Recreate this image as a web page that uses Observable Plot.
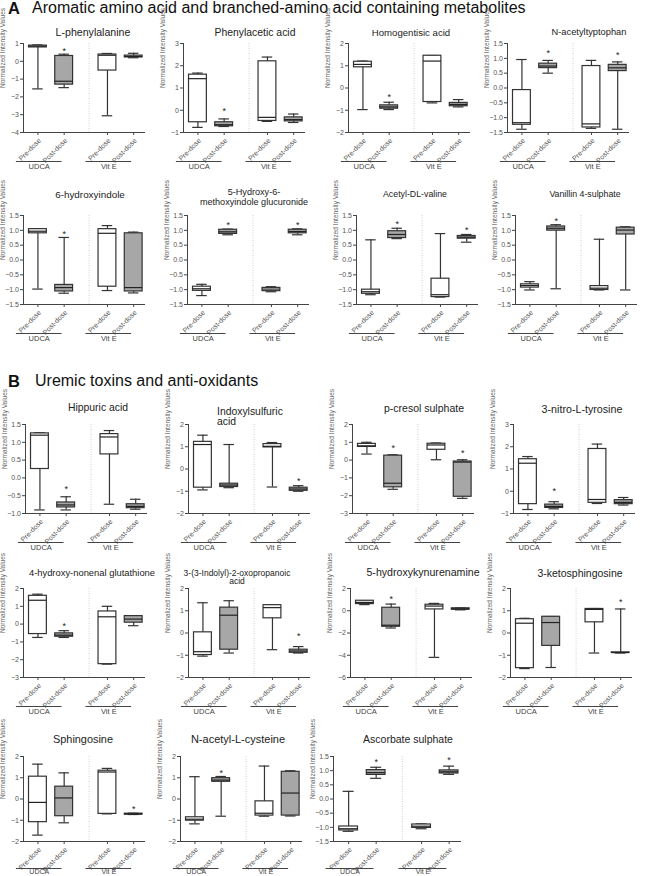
<!DOCTYPE html>
<html>
<head>
<meta charset="utf-8">
<script src="https://cdn.jsdelivr.net/npm/d3@7"></script>
<script src="https://cdn.jsdelivr.net/npm/@observablehq/plot@0.6"></script>
<style>
  body { margin: 0; background: #fff; font-family: "Liberation Sans", Arial, sans-serif; }
  #root { position: relative; width: 655px; height: 876px; overflow: hidden; background: #fff; }
  .letter { position: absolute; font-size: 16.5px; line-height: 16px; font-weight: bold; color: #111; }
  .head { position: absolute; font-size: 16px; line-height: 16px; color: #111; white-space: nowrap; }
  .ttl { position: absolute; color: #222; white-space: nowrap; }
  .panel { position: absolute; }
  .panel svg { overflow: visible; }
</style>
</head>
<body>
<div id="root"></div>
<script>
// ---------- categories ----------
const groups = ["UDCA", "Vit E"];
const doses = ["Pre-dose", "Post-dose"];
const yLabel = "Normalized Intensity Values";
const sectionA = "Aromatic amino acid and branched-amino acid containing metabolites";
const sectionB = "Uremic toxins and anti-oxidants";

// ---------- values: [min, q1, median, q3, max] for UDCA pre, UDCA post, Vit E pre, Vit E post ----------
const lPhenylalanine = [[-1.55, 0.78, 0.85, 0.88, 0.92], [-1.48, -1.31, -1.12, 0.3, 0.4], [-3.06, -0.52, 0.34, 0.38, 0.44], [0.2, 0.22, 0.27, 0.32, 0.45]];
const phenylaceticAcid = [[-0.77, -0.54, 1.42, 1.6, 1.67], [-0.73, -0.72, -0.65, -0.54, -0.39], [-0.5, -0.48, -0.32, 2.2, 2.39], [-0.55, -0.5, -0.42, -0.32, -0.17]];
const homogentisicAcid = [[-0.97, 0.93, 1.06, 1.18, 1.21], [-0.97, -0.93, -0.85, -0.78, -0.64], [-0.67, -0.63, 1.21, 1.45, 1.46], [-0.85, -0.82, -0.74, -0.67, -0.52]];
const nAcetyltryptophan = [[-1.39, -1.24, -1.17, -0.07, 0.96], [0.5, 0.67, 0.74, 0.82, 0.93], [-1.36, -1.33, -1.21, 0.74, 0.93], [-1.39, 0.57, 0.68, 0.78, 0.88]];
const hydroxyindole = [[-0.98, 0.9, 0.97, 1.04, 1.05], [-1.12, -1.06, -0.93, -0.84, 0.76], [-1.03, -0.9, 0.9, 1.04, 1.16], [-1.11, -1.06, -0.93, 0.9, 0.94]];
const methoxyindoleGlucuronide = [[-1.2, -1.04, -0.97, -0.9, -0.82], [0.85, 0.88, 0.95, 1.02, 1.04], [-1.07, -1.05, -0.98, -0.94, -0.9], [0.85, 0.9, 0.96, 1.02, 1.05]];
const acetylValine = [[-1.17, -1.14, -1.07, -1.0, 0.68], [0.72, 0.74, 0.86, 0.97, 1.07], [-1.25, -1.25, -1.17, -0.63, 0.89], [0.6, 0.72, 0.77, 0.81, 0.86]];
const vanillinSulphate = [[-1.01, -0.93, -0.86, -0.82, -0.73], [-0.97, 0.99, 1.07, 1.13, 1.19], [-1.01, -1.01, -0.95, -0.88, 0.7], [-1.01, 0.86, 1.01, 1.09, 1.12]];
const hippuricAcid = [[-0.9, 0.25, 1.2, 1.25, 1.27], [-0.9, -0.83, -0.76, -0.69, -0.53], [-0.74, 0.66, 1.15, 1.23, 1.33], [-0.88, -0.85, -0.8, -0.74, -0.6]];
const indoxylsulfuricAcid = [[-0.94, -0.84, 1.1, 1.22, 1.52], [-0.84, -0.81, -0.72, -0.66, 1.1], [-0.81, 0.97, 1.02, 1.12, 1.19], [-1.0, -0.98, -0.9, -0.84, -0.75]];
const pCresolSulphate = [[0.34, 0.74, 0.8, 0.91, 1.0], [-1.64, -1.53, -1.3, 0.25, 0.3], [0.02, 0.58, 0.85, 0.92, 0.96], [-2.15, -2.06, -0.11, -0.08, 0.02]];
const nitroTyrosine = [[-0.82, -0.58, 1.26, 1.44, 1.56], [-0.79, -0.75, -0.68, -0.6, -0.47], [-0.55, -0.52, -0.37, 1.9, 2.12], [-0.62, -0.58, -0.5, -0.4, -0.28]];
const hneGlutathione = [[-0.75, -0.56, 1.34, 1.59, 1.68], [-0.75, -0.71, -0.62, -0.52, -0.37], [-2.25, -2.25, 0.41, 0.71, 1.0], [-0.09, 0.08, 0.28, 0.45, 0.47]];
const indolylOxopropanoicAcid = [[-1.04, -0.99, -0.84, 0.03, 1.36], [-0.9, -0.75, 0.8, 1.14, 1.45], [-0.75, 0.66, 1.14, 1.25, 1.25], [-0.9, -0.89, -0.81, -0.75, -0.61]];
const hydroxykynurenamine = [[0.55, 0.6, 0.75, 0.9, 0.9], [-1.55, -1.44, -1.3, 0.27, 0.6], [-4.19, 0.12, 0.42, 0.54, 0.66], [0.08, 0.1, 0.16, 0.22, 0.25]];
const ketosphingosine = [[-1.6, -1.58, 0.44, 0.62, 0.66], [-1.55, -0.58, 0.47, 0.73, 0.74], [-0.9, 0.48, 1.06, 1.08, 1.1], [-0.9, -0.89, -0.88, -0.87, 1.08]];
const sphingosine = [[-1.7, -1.09, -0.16, 1.05, 1.64], [-1.12, -0.81, 0.05, 0.58, 1.23], [-0.7, -0.7, 1.27, 1.33, 1.44], [-0.73, -0.73, -0.71, -0.69, -0.67]];
const nAcetylCysteine = [[-1.17, -1.02, -0.95, -0.86, 1.05], [-0.81, 0.81, 0.89, 0.98, 1.06], [-0.81, -0.78, -0.67, -0.11, 1.55], [-0.8, -0.78, 0.28, 1.28, 1.33]];
const ascorbateSulphate = [[-1.14, -1.11, -1.05, -0.97, 0.27], [0.73, 0.85, 0.93, 1.02, 1.12], [-1.05, -1.02, -0.96, -0.9, -0.88], [0.87, 0.9, 0.96, 1.01, 1.16]];

// significance asterisk heights (per box, null = none)
const lPhenylalanineStars = [null, 0.66, null, null];
const phenylaceticAcidStars = [null, 0.05, null, null];
const homogentisicAcidStars = [null, -0.3, null, null];
const nAcetyltryptophanStars = [null, 1.24, null, 1.19];
const hydroxyindoleStars = [null, 0.94, null, null];
const methoxyindoleGlucuronideStars = [null, 1.26, null, 1.26];
const acetylValineStars = [null, 1.28, null, 1.07];
const vanillinSulphateStars = [null, 1.38, null, null];
const hippuricAcidStars = [null, -0.26, null, null];
const indoxylsulfuricAcidStars = [null, null, null, -0.44];
const pCresolSulphateStars = [null, 0.77, null, 0.49];
const nitroTyrosineStars = [null, 0.08, null, null];
const hneGlutathioneStars = [null, 0.0, null, null];
const indolylOxopropanoicAcidStars = [null, null, null, -0.07];
const hydroxykynurenamineStars = [null, 1.26, null, null];
const ketosphingosineStars = [null, null, null, 1.5];
const sphingosineStars = [null, null, null, -0.36];
const nAcetylCysteineStars = [null, 1.33, null, null];
const ascorbateSulphateStars = [null, 1.37, null, 1.46];

// panel titles, y domains and y tick steps
const titles = ["L-phenylalanine", "Phenylacetic acid", "Homogentisic acid", "N-acetyltyptophan",
  "6-hydroxyindole", "5-Hydroxy-6-<br>methoxyindole glucuronide", "Acetyl-DL-valine", "Vanillin 4-sulphate",
  "Hippuric acid", "Indoxylsulfuric<br>acid", "p-cresol sulphate", "3-nitro-L-tyrosine",
  "4-hydroxy-nonenal glutathione", "3-(3-Indolyl)-2-oxopropanoic<br>acid", "5-hydroxykynurenamine", "3-ketosphingosine",
  "Sphingosine", "N-acetyl-L-cysteine", "Ascorbate sulphate"];
const yDomains = [[-4, 1], [-1, 3], [-2, 2], [-1.5, 1.5],
  [-1.5, 1.5], [-1.5, 1.5], [-1.5, 1.5], [-1.5, 1.5],
  [-1, 1.5], [-2, 2], [-3, 2], [-1, 3],
  [-3, 2], [-2, 2], [-6, 2], [-2, 2],
  [-2, 2], [-2, 2], [-1.5, 1.5]];
const yTickSteps = [1, 1, 1, 0.5, 0.5, 0.5, 0.5, 0.5, 0.5, 1, 1, 1, 1, 1, 2, 1, 1, 1, 0.5];
const panelStats = [lPhenylalanine, phenylaceticAcid, homogentisicAcid, nAcetyltryptophan,
  hydroxyindole, methoxyindoleGlucuronide, acetylValine, vanillinSulphate,
  hippuricAcid, indoxylsulfuricAcid, pCresolSulphate, nitroTyrosine,
  hneGlutathione, indolylOxopropanoicAcid, hydroxykynurenamine, ketosphingosine,
  sphingosine, nAcetylCysteine, ascorbateSulphate];
const panelStars = [lPhenylalanineStars, phenylaceticAcidStars, homogentisicAcidStars, nAcetyltryptophanStars,
  hydroxyindoleStars, methoxyindoleGlucuronideStars, acetylValineStars, vanillinSulphateStars,
  hippuricAcidStars, indoxylsulfuricAcidStars, pCresolSulphateStars, nitroTyrosineStars,
  hneGlutathioneStars, indolylOxopropanoicAcidStars, hydroxykynurenamineStars, ketosphingosineStars,
  sphingosineStars, nAcetylCysteineStars, ascorbateSulphateStars];

// ---------- layout (page positions and styles, not data) ----------
const rowPlotTop = [43, 215, 424, 588, 756];
const rowPlotH = [89, 89, 89, 89, 85];
const rowAxisX = [[23, 183, 348, 507], [23, 187, 356, 515], [25, 188, 352, 513], [23, 188, 350, 510], [23, 180, 333]];
const titleCY = [33, 33, 33, 33, 195, 193, 195, 195, 408, 412, 408, 410, 573, 573, 573, 573, 740, 740, 739];
const titleCX = [93, 255, 411, 589, 90, 254, 415, 585, 98, 217, 424, 582, 92, 237, 423, 580, 83, 238, 408];
const titleSize = [10.6, 10.4, 9.6, 9.3, 9.9, 9.1, 8.8, 8.8, 10.4, 10.4, 10.5, 10.7, 9.4, 8.5, 10.6, 10.5, 10.9, 11, 10.5];
const ML = 30, MR = 6, MT = 10, MB = 46;
const slotPos = [1, 2, 3.65, 4.65];   // x slot of each box on the linear x scale
const xDomain = [0.45, 5.1];
const dividerX = 2.95;
const BW = 0.34, CAP = 0.2;

const root = document.getElementById("root");
function addDiv(cls, html, style) {
  const d = document.createElement("div");
  d.className = cls; d.innerHTML = html;
  Object.assign(d.style, style);
  root.appendChild(d);
  return d;
}
addDiv("letter", "A", {left: "8px", top: "0px"});
addDiv("head", sectionA, {left: "32px", top: "0px"});
addDiv("letter", "B", {left: "8px", top: "373px"});
addDiv("head", sectionB, {left: "35px", top: "373px"});

function boxPanel(stats, stars, domain, step, w, ph, lastRow) {
  const rows = stats.map((s, i) => ({
    slot: slotPos[i], dose: doses[i % 2], group: groups[Math.floor(i / 2)], post: i % 2 === 1,
    min: s[0], q1: s[1], med: s[2], q3: s[3], max: s[4], star: stars[i], base: domain[0]
  }));
  const groupRows = groups.map((g, j) => ({
    group: g, x1: slotPos[2 * j] - 0.82, x2: slotPos[2 * j + 1] - 0.08, base: domain[0]
  }));
  const ticks = d3.range(domain[0], domain[1] + step / 2, step);
  const fmt = step < 1 ? d3.format(".1f") : d3.format("d");
  const stroke = "#333";
  return Plot.plot({
    width: ML + w + MR, height: MT + ph + MB,
    marginLeft: ML, marginRight: MR, marginTop: MT, marginBottom: MB,
    x: {domain: xDomain},
    y: {domain},
    style: {fontFamily: "'Liberation Sans', Arial, sans-serif", fontSize: "7px", color: "#555", background: "transparent", overflow: "visible"},
    marks: [
      Plot.ruleX([dividerX], {stroke: "#c4c4c4", strokeDasharray: "1,1.5", strokeWidth: 0.8}),
      Plot.ruleX(rows, {x: "slot", y1: "min", y2: "max", stroke, strokeWidth: 1.2}),
      Plot.ruleY(rows, {y: "min", x1: d => d.slot - CAP, x2: d => d.slot + CAP, stroke, strokeWidth: 1.2}),
      Plot.ruleY(rows, {y: "max", x1: d => d.slot - CAP, x2: d => d.slot + CAP, stroke, strokeWidth: 1.2}),
      Plot.rect(rows, {x1: d => d.slot - BW, x2: d => d.slot + BW, y1: "q1", y2: "q3",
        fill: d => d.post ? "#a7a7a7" : "#ffffff", stroke, strokeWidth: 1.2}),
      Plot.ruleY(rows, {y: "med", x1: d => d.slot - BW, x2: d => d.slot + BW, stroke: "#222", strokeWidth: 1.2}),
      Plot.text(rows.filter(d => d.star != null), {x: "slot", y: "star", text: () => "*", fontSize: 9, fill: "#222", dy: 2}),
      Plot.axisY({ticks, tickFormat: fmt, tickSize: 3, tickPadding: 1.5, label: null, stroke: "#444"}),
      Plot.axisX({ticks: slotPos, tickFormat: () => "", tickSize: 3, label: null, stroke: "#444"}),
      Plot.ruleX([xDomain[0]], {stroke: "#444", strokeWidth: 1}),
      Plot.ruleY([domain[0]], {stroke: "#444", strokeWidth: 1}),
      Plot.text([yLabel], {frameAnchor: "left", text: d => d, rotate: -90, dx: -21, fontSize: 6.5, fill: "#666"}),
      Plot.text(rows, {x: "slot", y: "base", text: "dose", rotate: -45, textAnchor: "end", dx: 2, dy: 7, fontSize: 7, fill: "#555"}),
      Plot.ruleY(groupRows, {y: "base", x1: "x1", x2: "x2", dy: lastRow ? 27 : 29, stroke: "#444", strokeWidth: 1}),
      Plot.text(groupRows, {x: d => (d.x1 + d.x2) / 2, y: "base", text: "group", dy: lastRow ? 30.5 : 34.5, fontSize: lastRow ? 7 : 7.5, fill: "#444"})
    ]
  });
}

let idx = 0;
rowAxisX.forEach((cols, r) => {
  cols.forEach((ax, c) => {
    const i = idx++;
    const w = (r === 4 && c === 2) ? 128 : 122;
    const chart = boxPanel(panelStats[i], panelStars[i], yDomains[i], yTickSteps[i], w, rowPlotH[r], r === 4);
    const holder = addDiv("panel", "", {left: (ax - ML) + "px", top: (rowPlotTop[r] - MT) + "px"});
    holder.appendChild(chart);
    const leftAligned = titles[i].startsWith("Indoxyl");
    const fs = titleSize[i];
    const lh = Math.round(fs * 1.05 * 10) / 10;
    const tdiv = addDiv("ttl", titles[i], {
      top: (titleCY[i] - lh / 2) + "px",
      fontSize: fs + "px",
      lineHeight: lh + "px",
      textAlign: leftAligned ? "left" : "center"
    });
    if (leftAligned) {
      tdiv.style.left = titleCX[i] + "px";
    } else {
      tdiv.style.left = (titleCX[i] - 100) + "px";
      tdiv.style.width = "200px";
    }
  });
});
</script>
</body>
</html>
